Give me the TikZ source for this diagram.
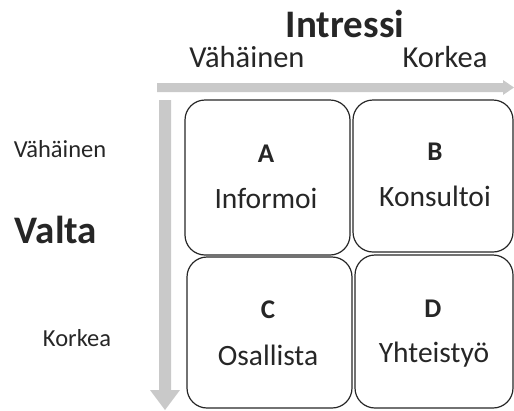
\documentclass[tikz,border=0pt]{standalone}
\usepackage{fontspec}
\setmainfont{Carlito}
\definecolor{arrowgray}{HTML}{C9C9C9}
\definecolor{txt}{HTML}{262626}
\begin{document}
\begin{tikzpicture}[x=1pt,y=-1pt,
  quad/.style={draw=black!85, line width=1.2pt, rounded corners=20pt, minimum width=165pt, minimum height=155pt, inner sep=0pt},
  title/.style={anchor=base, text=txt, font=\fontsize{39}{39}\selectfont\bfseries, inner sep=0pt},
  toplab/.style={anchor=base, text=txt, font=\fontsize{30.5}{30.5}\selectfont, inner sep=0pt},
  leftlab/.style={anchor=base, text=txt, font=\fontsize{24.5}{24.5}\selectfont, inner sep=0pt},
  letter/.style={anchor=base, text=txt, font=\fontsize{27}{27}\selectfont\bfseries, inner sep=0pt},
  word/.style={anchor=base, text=txt, font=\fontsize{29.5}{29.5}\selectfont, inner sep=0pt},
  garrow/.style={fill=arrowgray, draw=none}]
\useasboundingbox (0,0) rectangle (514,410);
% arrows
\fill[garrow] (157,83) -- (503,83) -- (503,80) -- (514,87.5) -- (503,95) -- (503,92) -- (157,92) -- cycle;
\fill[garrow] (159,100) -- (171,100) -- (171,390) -- (180,390) -- (165,410) -- (150,390) -- (159,390) -- cycle;
% boxes
\node[quad, minimum width=165pt, minimum height=155pt] (A) at (267.5,177.5) {};
\node[quad, minimum width=160pt, minimum height=152pt] (B) at (433,176) {};
\node[quad, minimum width=165pt, minimum height=151pt] (C) at (269.5,332.5) {};
\node[quad, minimum width=158pt, minimum height=153pt] (D) at (434,331.5) {};
% titles
\node[title] (intressi) at (345,37) {Intressi};
\node[title] (valta) at (56,243) {Valta};
\node[toplab] (hlow) at (247,67) {Vähäinen};
\node[toplab] (hhigh) at (445,67) {Korkea};
\node[leftlab] (vlow) at (60,157) {Vähäinen};
\node[leftlab] (vhigh) at (77,346) {Korkea};
% box texts
\node[letter] (la) at (266,162) {A};
\node[word] (wa) at (266,208) {Informoi};
\node[letter] (lb) at (435,160) {B};
\node[word] (wb) at (435,206) {Konsultoi};
\node[letter] (lc) at (268,318) {C};
\node[word] (wc) at (268,365) {Osallista};
\node[letter] (ld) at (433,317) {D};
\node[word] (wd) at (434,362) {Yhteistyö};
\end{tikzpicture}
\end{document}
